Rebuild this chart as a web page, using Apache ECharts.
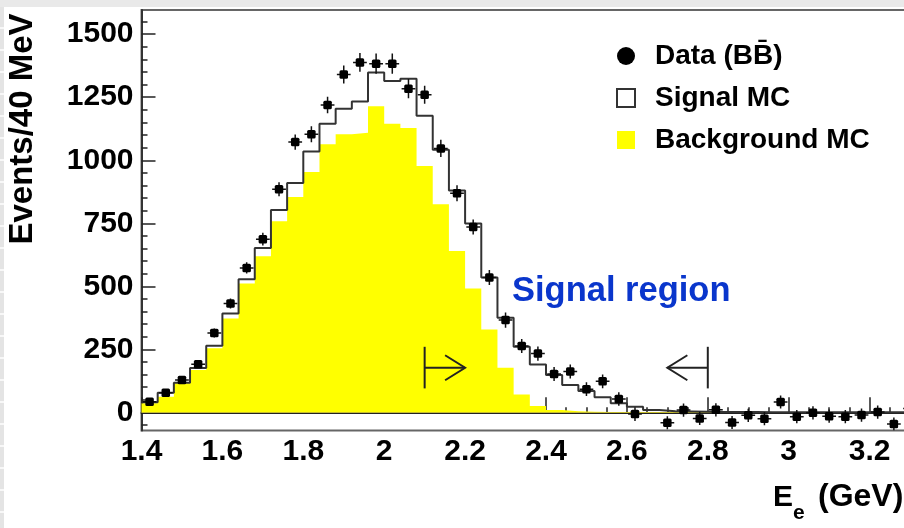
<!DOCTYPE html>
<html>
<head>
<meta charset="utf-8">
<script src="https://cdn.jsdelivr.net/npm/echarts@6/dist/echarts.min.js"></script>
<style>
  html, body { margin: 0; padding: 0; background: #fff; }
  #wrap { position: relative; width: 904px; height: 528px; overflow: hidden; }
  #chart { position: absolute; left: 0; top: 0; width: 960px; height: 528px; }
  #topband { position: absolute; left: 0; top: 0; width: 904px; height: 7px; background: #e9e9e9; }
  #sideband { position: absolute; left: 0; top: 7px; width: 4px; height: 521px;
    background: repeating-linear-gradient(to bottom, #e4e4e4 0, #e4e4e4 20px, #f8f8f8 20px, #f8f8f8 22px); }
</style>
</head>
<body>
<div id="wrap">
  <div id="chart"></div>
  <div id="topband"></div>
  <div id="sideband"></div>
</div>
<script>
// Electron energy spectrum, 40 MeV bins (bin centres in GeV)
const binCenters = [1.42, 1.46, 1.50, 1.54, 1.58, 1.62, 1.66, 1.70, 1.74, 1.78,
  1.82, 1.86, 1.90, 1.94, 1.98, 2.02, 2.06, 2.10, 2.14, 2.18,
  2.22, 2.26, 2.30, 2.34, 2.38, 2.42, 2.46, 2.50, 2.54, 2.58,
  2.62, 2.66, 2.70, 2.74, 2.78, 2.82, 2.86, 2.90, 2.94, 2.98,
  3.02, 3.06, 3.10, 3.14, 3.18, 3.22, 3.26, 3.30];

// Data (BB-bar) events per bin and their errors; null = empty bin
const dataEvents = [42, 78, 128, 191, 315, 432, 573, 687, 885, 1072,
  1103, 1219, 1340, 1388, 1383, 1383, 1284, 1260, 1047, 869,
  735, 535, 366, 263, 233, 152, 162, 92, 123, 53,
  -7, null, -41, 9, -24, 10, -40, -12, -25, 41,
  -17, -2, -15, -17, -11, 1, -46, 15];
const dataErrors = [12, 13, 14, 15, 18, 20, 22, 25, 28, 30,
  32, 33, 36, 37, 40, 40, 38, 36, 34, 32,
  30, 30, 30, 28, 28, 28, 28, 27, 27, 27,
  27, 0, 26, 26, 26, 26, 26, 26, 26, 26,
  26, 26, 26, 26, 26, 26, 26, 26];

// Signal MC (total) and background MC per bin
const signalMC = [40, 78, 117, 176, 264, 392, 528, 652, 803, 910,
  1035, 1145, 1204, 1233, 1348, 1314, 1323, 1177, 1042, 880,
  749, 535, 375, 260, 190, 148, 108, 85, 60, 36,
  22, 9, 4, 3, 2, 1, 1, 1, 0, 0,
  0, 0, 0, 0, 0, 0, 0, 0];
const backgroundMC = [36, 62, 115, 168, 254, 372, 511, 619, 758, 854,
  953, 1063, 1103, 1109, 1214, 1145, 1128, 977, 825, 640,
  491, 329, 177, 71, 25, 9, 4, 2, 1, 1,
  0, 0, 0, 0, 0, 0, 0, 0, 0, 0,
  0, 0, 0, 0, 0, 0, 0, 0];

// Axis ticks
const yMajorTicks = [0, 250, 500, 750, 1000, 1250, 1500];
const yMinorTicks = [-50, 50, 100, 150, 200, 300, 350, 400, 450, 550, 600, 650, 700,
  800, 850, 900, 950, 1050, 1100, 1150, 1200, 1300, 1350, 1400, 1450, 1550];

// Signal region limits (GeV) with arrow tips, and the arrows' vertical placement (events)
const regionEdges = [2.1, 2.8];
const regionArrowTips = [2.2, 2.7];
const arrowBarSpan = [95, 260];
const arrowLevel = 177;

const HALF_BIN = 0.02;
const X_ERR = 0.017;
const FONT = "'Liberation Sans', Arial, Helvetica, sans-serif";

function toSteps(values) {
  const pts = binCenters.map((c, i) => [c - HALF_BIN, values[i]]);
  pts.push([binCenters[binCenters.length - 1] + HALF_BIN, values[values.length - 1]]);
  return pts;
}
const bkgSteps = toSteps(backgroundMC);
const sigSteps = toSteps(signalMC);
const pointData = [];
binCenters.forEach((c, i) => {
  if (dataEvents[i] !== null) pointData.push([c, dataEvents[i], dataErrors[i]]);
});
const arrowData = regionEdges.map((x, i) => [x, regionArrowTips[i]]);

const chart = echarts.init(document.getElementById('chart'), null, { renderer: 'canvas' });

function renderPoint(params, api) {
  const x = api.value(0), y = api.value(1), e = api.value(2);
  const c = api.coord([x, y]);
  const lo = api.coord([x, y - e]);
  const hi = api.coord([x, y + e]);
  const l = api.coord([x - X_ERR, y]);
  const r = api.coord([x + X_ERR, y]);
  const st = { stroke: '#111', lineWidth: 1.5 };
  return {
    type: 'group',
    children: [
      { type: 'line', shape: { x1: c[0], y1: lo[1], x2: c[0], y2: hi[1] }, style: st },
      { type: 'line', shape: { x1: l[0], y1: c[1], x2: r[0], y2: c[1] }, style: st },
      { type: 'rect', shape: { x: c[0] - 4.25, y: c[1] - 4.25, width: 8.5, height: 8.5, r: 1.5 },
        style: { fill: '#000' } }
    ]
  };
}

function renderArrow(params, api) {
  const x = api.value(0), tip = api.value(1);
  const top = api.coord([x, arrowBarSpan[1]]);
  const bot = api.coord([x, arrowBarSpan[0]]);
  const a = api.coord([x, arrowLevel]);
  const b = api.coord([tip, arrowLevel]);
  const dir = b[0] > a[0] ? 1 : -1;
  const st = { stroke: '#222', lineWidth: 2, fill: null };
  return {
    type: 'group',
    children: [
      { type: 'line', shape: { x1: top[0], y1: top[1], x2: bot[0], y2: bot[1] }, style: st },
      { type: 'line', shape: { x1: a[0], y1: a[1], x2: b[0], y2: b[1] }, style: st },
      { type: 'polyline', shape: { points: [[b[0] - dir * 20, b[1] - 12.5], [b[0], b[1]], [b[0] - dir * 20, b[1] + 12.5]] },
        style: st }
    ]
  };
}

const yAxisCommon = {
  type: 'value',
  min: -72,
  max: 1596,
  position: 'left',
  offset: 0,
  splitLine: { show: false }
};

const option = {
  animation: false,
  backgroundColor: 'transparent',
  grid: {
    left: 141.5,
    top: 10,
    right: 9.5,
    bottom: 97.5,
    show: true,
    borderColor: '#666',
    borderWidth: 2,
    backgroundColor: 'transparent'
  },
  xAxis: {
    type: 'value',
    min: 1.4,
    max: 3.4,
    interval: 0.2,
    axisLine: { show: true, lineStyle: { color: '#222', width: 2 } },
    axisTick: { show: true, inside: true, length: 15, lineStyle: { color: '#222', width: 1.5 } },
    minorTick: { show: true, splitNumber: 4, length: 5, lineStyle: { color: '#222', width: 1.5 } },
    splitLine: { show: false },
    axisLabel: {
      margin: 6,
      color: '#000',
      fontFamily: FONT,
      fontWeight: 'bold',
      fontSize: 30,
      showMaxLabel: false,
      formatter: v => String(Math.round(v * 10) / 10)
    }
  },
  yAxis: [
    Object.assign({}, yAxisCommon, {
      axisLine: { show: true, lineStyle: { color: '#333', width: 2 } },
      axisTick: { show: true, inside: true, length: 14, customValues: yMajorTicks,
        lineStyle: { color: '#222', width: 1.5 } },
      axisLabel: { show: true, customValues: yMajorTicks, margin: 8, color: '#000',
        fontFamily: FONT, fontWeight: 'bold', fontSize: 30,
        formatter: v => String(Math.round(v)) }
    }),
    Object.assign({}, yAxisCommon, {
      axisLine: { show: false },
      axisTick: { show: true, inside: true, length: 6, customValues: yMinorTicks,
        lineStyle: { color: '#222', width: 1.5 } },
      axisLabel: { show: false }
    })
  ],
  legend: {
    orient: 'vertical',
    left: 611,
    top: 37,
    itemWidth: 18,
    itemHeight: 18,
    itemGap: 14,
    selectedMode: false,
    textStyle: { color: '#000', fontFamily: FONT, fontWeight: 'bold', fontSize: 28, padding: [0, 0, 0, 15] },
    data: [
      { name: 'Data (BB\u0304)', icon: 'circle', itemStyle: { color: '#000', borderWidth: 0 } },
      { name: 'Signal MC', icon: 'rect', itemStyle: { color: '#fff', borderColor: '#333', borderWidth: 2 } },
      { name: 'Background MC', icon: 'rect', itemStyle: { color: '#ffff00', borderWidth: 0 } }
    ]
  },
  graphic: [
    {
      type: 'text', x: 23, y: 129, rotation: Math.PI / 2,
      style: { text: 'Events/40 MeV', fill: '#000', font: 'bold 33px ' + FONT,
        align: 'center', verticalAlign: 'middle' }
    },
    {
      type: 'text', x: 512, y: 291,
      style: { text: 'Signal region', fill: '#0a36cc', font: 'bold 34.5px ' + FONT,
        align: 'left', verticalAlign: 'middle' }
    },
    {
      type: 'text', x: 773, y: 497.5,
      style: { text: 'E', fill: '#000', font: 'bold 30px ' + FONT, align: 'left', verticalAlign: 'middle' }
    },
    {
      type: 'text', x: 793, y: 513,
      style: { text: 'e', fill: '#000', font: 'bold 21px ' + FONT, align: 'left', verticalAlign: 'middle' }
    },
    {
      type: 'text', x: 818, y: 497.5,
      style: { text: '(GeV)', fill: '#000', font: 'bold 32px ' + FONT, align: 'left', verticalAlign: 'middle' }
    }
  ],
  series: [
    {
      name: 'Background MC',
      type: 'line',
      step: 'end',
      data: bkgSteps,
      symbol: 'none',
      showSymbol: false,
      lineStyle: { width: 0, color: '#ffff00' },
      itemStyle: { color: '#ffff00' },
      areaStyle: { color: '#ffff00', opacity: 1, origin: 0 },
      clip: true,
      z: 1
    },
    {
      name: 'Signal MC',
      type: 'line',
      step: 'end',
      data: sigSteps,
      showSymbol: false,
      symbol: 'none',
      lineStyle: { color: '#333', width: 2 },
      itemStyle: { color: '#333' },
      clip: true,
      z: 3,
      markLine: {
        silent: true,
        symbol: 'none',
        label: { show: false },
        lineStyle: { color: '#c4bc2c', width: 1.2, type: 'solid' },
        data: [{ yAxis: 0 }],
        z: 2
      }
    },
    {
      name: 'region',
      type: 'custom',
      renderItem: renderArrow,
      data: arrowData,
      z: 4,
      encode: { x: [0, 1] }
    },
    {
      name: 'Data (BB\u0304)',
      type: 'custom',
      renderItem: renderPoint,
      data: pointData,
      clip: true,
      z: 5,
      encode: { x: 0, y: 1 }
    }
  ]
};

chart.setOption(option);
</script>
</body>
</html>
